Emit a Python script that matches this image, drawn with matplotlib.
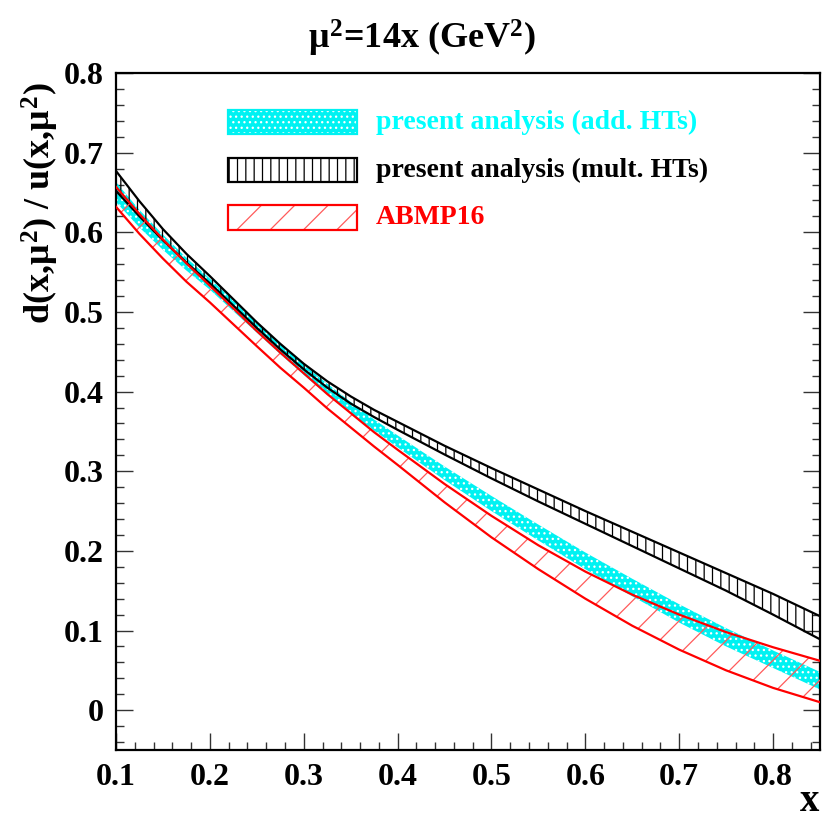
import matplotlib
matplotlib.use("Agg")
import matplotlib.pyplot as plt
from matplotlib.patches import Rectangle
from matplotlib.ticker import MultipleLocator

plt.rcParams['font.family'] = ['Liberation Serif', 'DejaVu Serif']
plt.rcParams['font.weight'] = 'bold'
plt.rcParams['hatch.linewidth'] = 0.9
plt.rcParams['mathtext.fontset'] = 'custom'
plt.rcParams['mathtext.rm'] = 'Liberation Serif:bold'
plt.rcParams['mathtext.bf'] = 'Liberation Serif:bold'
plt.rcParams['mathtext.it'] = 'Liberation Serif'

x = [0.1, 0.125, 0.15, 0.175, 0.2, 0.25, 0.275, 0.3, 0.325, 0.35, 0.375, 0.4,
     0.45, 0.5, 0.55, 0.6, 0.65, 0.7, 0.75, 0.8, 0.85]

add_hi = [0.663, 0.628, 0.597, 0.568, 0.542, 0.487, 0.460, 0.434, 0.410, 0.387,
          0.365, 0.345, 0.306, 0.269, 0.233, 0.198, 0.165, 0.133, 0.103, 0.075, 0.048]
add_lo = [0.638, 0.606, 0.578, 0.552, 0.528, 0.474, 0.447, 0.421, 0.396, 0.373,
          0.351, 0.330, 0.289, 0.250, 0.213, 0.177, 0.143, 0.110, 0.080, 0.053, 0.026]

mult_hi = [0.677, 0.639, 0.604, 0.573, 0.545, 0.487, 0.460, 0.435, 0.413, 0.394,
           0.377, 0.362, 0.332, 0.304, 0.277, 0.250, 0.224, 0.198, 0.172, 0.146, 0.118]
mult_lo = [0.652, 0.620, 0.590, 0.562, 0.536, 0.480, 0.453, 0.428, 0.405, 0.385,
           0.368, 0.352, 0.321, 0.291, 0.262, 0.234, 0.206, 0.178, 0.150, 0.120, 0.089]

abmp_hi = [0.657, 0.623, 0.591, 0.561, 0.533, 0.476, 0.449, 0.423, 0.397, 0.373,
           0.349, 0.327, 0.284, 0.244, 0.207, 0.174, 0.145, 0.120, 0.098, 0.079, 0.062]
abmp_lo = [0.632, 0.598, 0.567, 0.538, 0.512, 0.457, 0.430, 0.405, 0.379, 0.355,
           0.331, 0.308, 0.261, 0.217, 0.177, 0.140, 0.106, 0.076, 0.050, 0.028, 0.010]

labels = ["present analysis (add. HTs)", "present analysis (mult. HTs)", "ABMP16"]
label_colors = ["#00ffff", "black", "red"]

fig = plt.figure(figsize=(8.30, 8.22), dpi=100)
ax = fig.add_axes([116/830, 1-750/822, (820-116)/830, (750-73)/822])

CY = "#00f2f2"
HR = "#ff5a5a"
# cyan band
ax.fill_between(x, add_lo, add_hi, facecolor=CY, edgecolor="white",
                hatch="...", linewidth=0, zorder=2)
# black band
ax.fill_between(x, mult_lo, mult_hi, facecolor="none", edgecolor="black",
                hatch="||", linewidth=0, zorder=3)
ax.plot(x, mult_hi, color="black", lw=1.6, zorder=4)
ax.plot(x, mult_lo, color="black", lw=1.6, zorder=4)
# red band
ax.fill_between(x, abmp_lo, abmp_hi, facecolor="none", edgecolor=HR,
                hatch="/", linewidth=0, zorder=5)
ax.plot(x, abmp_hi, color="red", lw=1.6, zorder=6)
ax.plot(x, abmp_lo, color="red", lw=1.6, zorder=6)

ax.set_xlim(0.1, 0.85)
ax.set_ylim(-0.05, 0.8)
ax.xaxis.set_minor_locator(MultipleLocator(0.02))
ax.yaxis.set_minor_locator(MultipleLocator(0.02))
ax.tick_params(which='both', direction='in', left=True, right=True, bottom=True, top=False,
               width=1.0, colors='#333333', labelcolor='black')
ax.tick_params(which='major', length=12, labelsize=23, pad=9)
ax.tick_params(which='minor', length=6)
for s in ax.spines.values():
    s.set_linewidth(1.6)
ax.set_xticks([0.1, 0.2, 0.3, 0.4, 0.5, 0.6, 0.7, 0.8])
ax.set_xticklabels(["0.1", "0.2", "0.3", "0.4", "0.5", "0.6", "0.7", "0.8"])
ax.set_yticks([0, 0.1, 0.2, 0.3, 0.4, 0.5, 0.6, 0.7, 0.8])
ax.set_yticklabels(["0", "0.1", "0.2", "0.3", "0.4", "0.5", "0.6", "0.7", "0.8"])
for lab in ax.get_xticklabels() + ax.get_yticklabels():
    lab.set_fontweight('bold')

# legend (manual)
boxes_y = [(110, 134), (158, 182), (205, 230)]
styles = [dict(facecolor=CY, edgecolor="white", hatch="...", linewidth=0),
          dict(facecolor="none", edgecolor="black", hatch="||", linewidth=0),
          dict(facecolor="none", edgecolor=HR, hatch="/", linewidth=0)]
outline = [CY, "black", "red"]
for (y0, y1), st, oc, lab, lc in zip(boxes_y, styles, outline, labels, label_colors):
    r = Rectangle((228/830, 1-y1/822), (357-228)/830, (y1-y0)/822,
                  transform=fig.transFigure, **st)
    fig.add_artist(r)
    r2 = Rectangle((228/830, 1-y1/822), (357-228)/830, (y1-y0)/822,
                   transform=fig.transFigure, facecolor="none", edgecolor=oc, linewidth=1.6)
    fig.add_artist(r2)
    fig.text(376/830, 1-(y0+y1)/2/822, lab, color=lc, fontsize=20, fontweight='bold',
             va='center', ha='left')

fig.text(0.508, 1-38/822, r"$\mathit{\mu}^{\mathbf{2}}$=14x (GeV$^{\mathbf{2}}$)", fontsize=26,
         fontweight='bold', ha='center', va='center')
fig.text(40/830, 1-82/822, r"d(x,$\mathit{\mu}^{\mathbf{2}}$) / u(x,$\mathit{\mu}^{\mathbf{2}}$)",
         fontsize=26, fontweight='bold', rotation=90, ha='center', va='top')
fig.text(810/830, 1-801/822, "x", fontsize=28, fontweight='bold', ha='center', va='center')

fig.savefig("out.png", dpi=100)
